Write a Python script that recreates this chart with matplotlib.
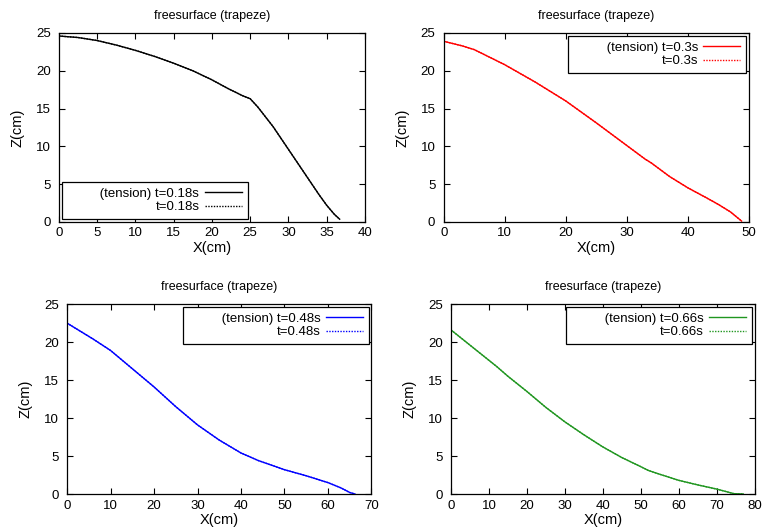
import matplotlib
matplotlib.use("Agg")
import matplotlib.pyplot as plt

plt.rcParams['font.family'] = ['Liberation Sans', 'DejaVu Sans']

# ---- t = 0.18 s ----
x_018 = [0, 2.5, 5, 7.5, 10, 12.5, 15, 17.5, 20, 22, 24, 25, 26, 28, 30, 32, 34, 35, 36, 36.7]
z_018_tens = [24.6, 24.4, 24.0, 23.4, 22.7, 21.9, 21.0, 20.0, 18.8, 17.7, 16.7, 16.3, 15.2, 12.6, 9.6, 6.6, 3.6, 2.2, 1.0, 0.35]
z_018 = [24.6, 24.4, 24.0, 23.4, 22.7, 21.9, 21.0, 20.0, 18.8, 17.7, 16.7, 16.3, 15.2, 12.6, 9.6, 6.6, 3.6, 2.2, 1.0, 0.35]

# ---- t = 0.3 s ----
x_030 = [0, 3, 5, 10, 15, 20, 25, 30, 33, 34, 37, 40, 43, 45, 47, 48.8]
z_030_tens = [23.9, 23.3, 22.8, 20.8, 18.5, 16.0, 13.1, 10.1, 8.3, 7.8, 6.0, 4.5, 3.2, 2.3, 1.3, 0.1]
z_030 = [23.9, 23.3, 22.8, 20.8, 18.5, 16.0, 13.1, 10.1, 8.3, 7.8, 6.0, 4.5, 3.2, 2.3, 1.3, 0.1]

# ---- t = 0.48 s ----
x_048 = [0, 6, 10, 15, 20, 25, 30, 35, 40, 44, 47, 50, 55, 60, 63, 65, 66.2]
z_048_tens = [22.5, 20.4, 18.9, 16.5, 14.1, 11.5, 9.1, 7.1, 5.4, 4.4, 3.8, 3.2, 2.4, 1.5, 0.8, 0.2, 0.0]
z_048 = [22.5, 20.4, 18.9, 16.5, 14.1, 11.5, 9.1, 7.1, 5.4, 4.4, 3.8, 3.2, 2.4, 1.5, 0.8, 0.2, 0.0]

# ---- t = 0.66 s ----
x_066 = [0, 5, 10, 12, 15, 20, 25, 30, 35, 40, 45, 50, 52, 55, 60, 65, 70, 73, 74.5, 77]
z_066_tens = [21.6, 19.6, 17.6, 16.8, 15.5, 13.5, 11.4, 9.5, 7.8, 6.2, 4.8, 3.6, 3.1, 2.6, 1.8, 1.2, 0.65, 0.25, 0.05, 0.0]
z_066 = [21.6, 19.6, 17.6, 16.8, 15.5, 13.5, 11.4, 9.5, 7.8, 6.2, 4.8, 3.6, 3.1, 2.6, 1.8, 1.2, 0.65, 0.25, 0.05, 0.0]

panels = [
    ("0.18s", x_018, z_018_tens, z_018, "black", 40, 5, "lower left", [0.077, 0.583, 0.400, 0.355]),
    ("0.3s", x_030, z_030_tens, z_030, "#ff0000", 50, 10, "upper right", [0.580, 0.583, 0.399, 0.355]),
    ("0.48s", x_048, z_048_tens, z_048, "#0000ff", 70, 10, "upper right", [0.0876, 0.0714, 0.398, 0.357]),
    ("0.66s", x_066, z_066_tens, z_066, "#209620", 80, 10, "upper right", [0.5895, 0.0714, 0.397, 0.357]),
]

fig = plt.figure(figsize=(7.65, 5.32), dpi=100)

for t, x, zt, z, col, xmax, xstep, loc, pos in panels:
    ax = fig.add_axes(pos)
    ax.plot(x, zt, color=col, lw=1.0, ls="-", label="         (tension) t=" + t)
    ax.plot(x, z, color=col, lw=1.0, ls=(0, (1, 1)), label="t=" + t)
    ax.set_xlim(0, xmax)
    ax.set_ylim(0, 25)
    ax.set_xticks(range(0, xmax + 1, xstep))
    ax.set_yticks(range(0, 26, 5))
    ax.tick_params(direction="in", top=True, right=True, length=4, width=0.8, labelsize=9.5)
    ax.tick_params(axis="x", pad=4)
    ax.tick_params(axis="y", pad=6)
    for s in ax.spines.values():
        s.set_linewidth(0.9)
    ax.set_xlabel("X(cm)", fontsize=10.5, labelpad=1)
    ax.set_ylabel("Z(cm)", fontsize=10.5, labelpad=8)
    ax.set_title("freesurface (trapeze)", fontsize=9, pad=10)
    leg = ax.legend(loc=loc, markerfirst=False, fancybox=False, frameon=True,
                    edgecolor="black", fontsize=9.5, handlelength=2.8,
                    borderpad=0.45, labelspacing=0.1, borderaxespad=0.2,
                    handletextpad=0.4)
    leg.get_frame().set_linewidth(0.9)
    leg.get_frame().set_alpha(1)

fig.savefig("out.png", dpi=100)
